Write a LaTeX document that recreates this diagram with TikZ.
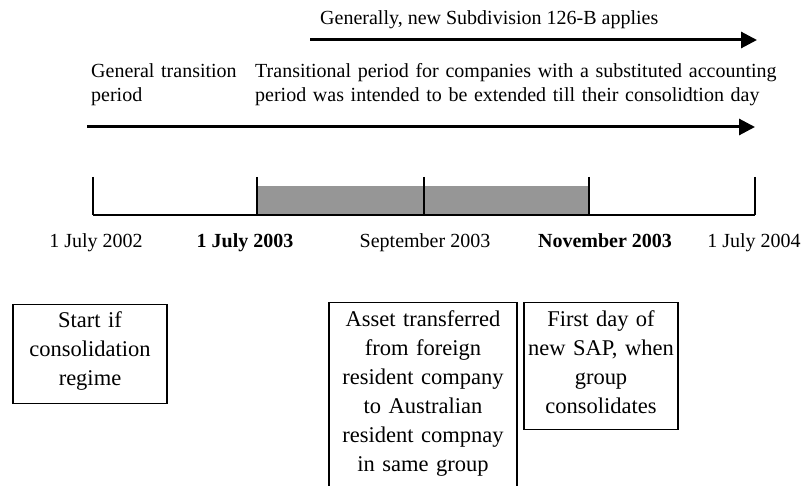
\documentclass[tikz,border=0pt]{standalone}
\usepackage{fontspec}
\setmainfont{Liberation Serif}
\usetikzlibrary{arrows.meta}

\tikzset{
  periodarrow/.style={line width=3pt, -{Triangle[length=16pt,width=16pt]}},
  note/.style={anchor=base west, inner sep=0pt, align=left, font=\fontsize{20}{23.5}\selectfont},
  datelabel/.style={anchor=base, inner sep=0pt, font=\fontsize{20}{24}\selectfont},
  eventbox/.style={draw, line width=1.2pt, anchor=north, align=center, inner xsep=2pt, inner ysep=8pt,
    font=\fontsize{22.5}{29}\selectfont}
}

\begin{document}
\begin{tikzpicture}[x=1pt,y=-1pt]
        \useasboundingbox (0,0) rectangle (807,486);
        \clip (0,0) rectangle (807,486);

        % New subdivision
        \node[note] (applies) at (320,25) {Generally, new Subdivision 126-B applies};
        \coordinate (newstart) at (310,40);
        \coordinate (newend) at (757,40);
        \draw[periodarrow] (newstart) -- (newend);

        % Transition periods
        \node[note, text width=160pt] (general) at (91,78) {General transition\\period};
        \node[note, text width=540pt] (substituted) at (255,78) {Transitional period for companies with a substituted accounting\\period was intended to be extended till their consolidtion day};
        \coordinate (transstart) at (87,127);
        \coordinate (transend) at (755,127);
        \draw[periodarrow] (transstart) -- (transend);

        % Timeline
        \fill[gray!82] (257,186) rectangle (589,215);
        \draw[line width=1.3pt] (93,215) -- (755,215);
        \foreach \x in {93,257,424,589,755}
            \draw[line width=1.3pt] (\x,177) -- (\x,215);

        % Dates
        \node[datelabel] (d2002) at (96,248) {1 July 2002};
        \node[datelabel] (d2003) at (245,248) {\textbf{1 July 2003}};
        \node[datelabel] (dsep) at (425,248) {September 2003};
        \node[datelabel] (dnov) at (605,248) {\textbf{November 2003}};
        \node[datelabel] (d2004) at (754,248) {1 July 2004};

        % Events
        \node[eventbox, text width=150pt, text height=15pt, text depth=68pt] (start) at (90,304) {Start if\\consolidation\\regime};
        \node[eventbox, text width=184pt, text height=16pt, text depth=200pt] (asset) at (423,302) {Asset transferred\\from foreign\\resident company\\to Australian\\resident compnay\\in same group};
        \node[eventbox, text width=150pt, text height=16pt, text depth=95pt] (firstday) at (601,302) {First day of\\new SAP, when\\group\\consolidates};
    \end{tikzpicture}
\end{document}
